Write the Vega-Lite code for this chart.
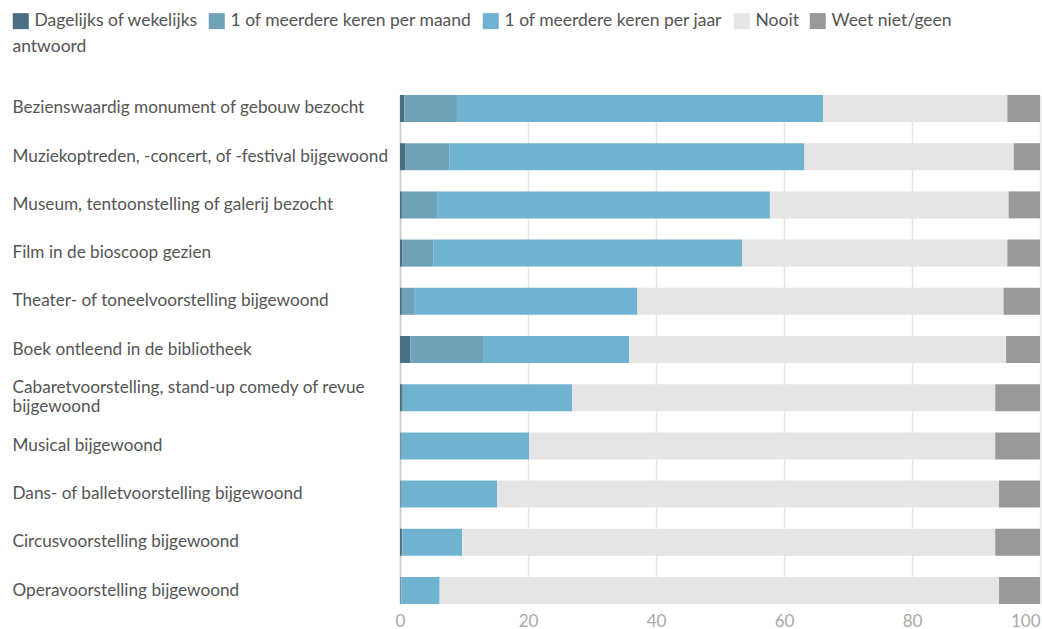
{
  "$schema": "https://vega.github.io/schema/vega-lite/v6.json",
  "width": 640,
  "height": 509,
  "autosize": {"type": "none"},
  "padding": {"left": 400, "top": 95, "right": 2, "bottom": 25},
  "background": "white",
  "config": {
    "font": "Lato",
    "view": {"stroke": null}
  },
  "data": {
    "values": [
      {"act": "Bezienswaardig monument of gebouw bezocht", "cat": "Dagelijks of wekelijks", "r": 1, "v": 0.7},
      {"act": "Bezienswaardig monument of gebouw bezocht", "cat": "1 of meerdere keren per maand", "r": 2, "v": 8.2},
      {"act": "Bezienswaardig monument of gebouw bezocht", "cat": "1 of meerdere keren per jaar", "r": 3, "v": 57.2},
      {"act": "Bezienswaardig monument of gebouw bezocht", "cat": "Nooit", "r": 4, "v": 28.8},
      {"act": "Bezienswaardig monument of gebouw bezocht", "cat": "Weet niet/geen antwoord", "r": 5, "v": 5.1},
      {"act": "Muziekoptreden, -concert, of -festival bijgewoond", "cat": "Dagelijks of wekelijks", "r": 1, "v": 0.8},
      {"act": "Muziekoptreden, -concert, of -festival bijgewoond", "cat": "1 of meerdere keren per maand", "r": 2, "v": 6.9},
      {"act": "Muziekoptreden, -concert, of -festival bijgewoond", "cat": "1 of meerdere keren per jaar", "r": 3, "v": 55.5},
      {"act": "Muziekoptreden, -concert, of -festival bijgewoond", "cat": "Nooit", "r": 4, "v": 32.7},
      {"act": "Muziekoptreden, -concert, of -festival bijgewoond", "cat": "Weet niet/geen antwoord", "r": 5, "v": 4.1},
      {"act": "Museum, tentoonstelling of galerij bezocht", "cat": "Dagelijks of wekelijks", "r": 1, "v": 0.3},
      {"act": "Museum, tentoonstelling of galerij bezocht", "cat": "1 of meerdere keren per maand", "r": 2, "v": 5.6},
      {"act": "Museum, tentoonstelling of galerij bezocht", "cat": "1 of meerdere keren per jaar", "r": 3, "v": 51.9},
      {"act": "Museum, tentoonstelling of galerij bezocht", "cat": "Nooit", "r": 4, "v": 37.3},
      {"act": "Museum, tentoonstelling of galerij bezocht", "cat": "Weet niet/geen antwoord", "r": 5, "v": 4.9},
      {"act": "Film in de bioscoop gezien", "cat": "Dagelijks of wekelijks", "r": 1, "v": 0.4},
      {"act": "Film in de bioscoop gezien", "cat": "1 of meerdere keren per maand", "r": 2, "v": 4.8},
      {"act": "Film in de bioscoop gezien", "cat": "1 of meerdere keren per jaar", "r": 3, "v": 48.3},
      {"act": "Film in de bioscoop gezien", "cat": "Nooit", "r": 4, "v": 41.4},
      {"act": "Film in de bioscoop gezien", "cat": "Weet niet/geen antwoord", "r": 5, "v": 5.1},
      {"act": "Theater- of toneelvoorstelling bijgewoond", "cat": "Dagelijks of wekelijks", "r": 1, "v": 0.3},
      {"act": "Theater- of toneelvoorstelling bijgewoond", "cat": "1 of meerdere keren per maand", "r": 2, "v": 1.9},
      {"act": "Theater- of toneelvoorstelling bijgewoond", "cat": "1 of meerdere keren per jaar", "r": 3, "v": 34.9},
      {"act": "Theater- of toneelvoorstelling bijgewoond", "cat": "Nooit", "r": 4, "v": 57.2},
      {"act": "Theater- of toneelvoorstelling bijgewoond", "cat": "Weet niet/geen antwoord", "r": 5, "v": 5.7},
      {"act": "Boek ontleend in de bibliotheek", "cat": "Dagelijks of wekelijks", "r": 1, "v": 1.6},
      {"act": "Boek ontleend in de bibliotheek", "cat": "1 of meerdere keren per maand", "r": 2, "v": 11.5},
      {"act": "Boek ontleend in de bibliotheek", "cat": "1 of meerdere keren per jaar", "r": 3, "v": 22.7},
      {"act": "Boek ontleend in de bibliotheek", "cat": "Nooit", "r": 4, "v": 58.9},
      {"act": "Boek ontleend in de bibliotheek", "cat": "Weet niet/geen antwoord", "r": 5, "v": 5.3},
      {"act": "Cabaretvoorstelling, stand-up comedy of revue bijgewoond", "cat": "Dagelijks of wekelijks", "r": 1, "v": 0.3},
      {"act": "Cabaretvoorstelling, stand-up comedy of revue bijgewoond", "cat": "1 of meerdere keren per maand", "r": 2, "v": 0.3},
      {"act": "Cabaretvoorstelling, stand-up comedy of revue bijgewoond", "cat": "1 of meerdere keren per jaar", "r": 3, "v": 26.3},
      {"act": "Cabaretvoorstelling, stand-up comedy of revue bijgewoond", "cat": "Nooit", "r": 4, "v": 66.1},
      {"act": "Cabaretvoorstelling, stand-up comedy of revue bijgewoond", "cat": "Weet niet/geen antwoord", "r": 5, "v": 7.0},
      {"act": "Musical bijgewoond", "cat": "Dagelijks of wekelijks", "r": 1, "v": 0.1},
      {"act": "Musical bijgewoond", "cat": "1 of meerdere keren per maand", "r": 2, "v": 0.2},
      {"act": "Musical bijgewoond", "cat": "1 of meerdere keren per jaar", "r": 3, "v": 19.9},
      {"act": "Musical bijgewoond", "cat": "Nooit", "r": 4, "v": 72.8},
      {"act": "Musical bijgewoond", "cat": "Weet niet/geen antwoord", "r": 5, "v": 7.0},
      {"act": "Dans- of balletvoorstelling bijgewoond", "cat": "Dagelijks of wekelijks", "r": 1, "v": 0.1},
      {"act": "Dans- of balletvoorstelling bijgewoond", "cat": "1 of meerdere keren per maand", "r": 2, "v": 0.2},
      {"act": "Dans- of balletvoorstelling bijgewoond", "cat": "1 of meerdere keren per jaar", "r": 3, "v": 14.9},
      {"act": "Dans- of balletvoorstelling bijgewoond", "cat": "Nooit", "r": 4, "v": 78.4},
      {"act": "Dans- of balletvoorstelling bijgewoond", "cat": "Weet niet/geen antwoord", "r": 5, "v": 6.4},
      {"act": "Circusvoorstelling bijgewoond", "cat": "Dagelijks of wekelijks", "r": 1, "v": 0.3},
      {"act": "Circusvoorstelling bijgewoond", "cat": "1 of meerdere keren per maand", "r": 2, "v": 0.1},
      {"act": "Circusvoorstelling bijgewoond", "cat": "1 of meerdere keren per jaar", "r": 3, "v": 9.3},
      {"act": "Circusvoorstelling bijgewoond", "cat": "Nooit", "r": 4, "v": 83.3},
      {"act": "Circusvoorstelling bijgewoond", "cat": "Weet niet/geen antwoord", "r": 5, "v": 7.0},
      {"act": "Operavoorstelling bijgewoond", "cat": "Dagelijks of wekelijks", "r": 1, "v": 0.1},
      {"act": "Operavoorstelling bijgewoond", "cat": "1 of meerdere keren per maand", "r": 2, "v": 0.1},
      {"act": "Operavoorstelling bijgewoond", "cat": "1 of meerdere keren per jaar", "r": 3, "v": 6.0},
      {"act": "Operavoorstelling bijgewoond", "cat": "Nooit", "r": 4, "v": 87.4},
      {"act": "Operavoorstelling bijgewoond", "cat": "Weet niet/geen antwoord", "r": 5, "v": 6.4}
    ]
  },
  "mark": {"type": "bar"},
  "encoding": {
    "y": {
      "field": "act",
      "type": "nominal",
      "sort": null,
      "scale": {"paddingInner": 0.44, "paddingOuter": 0},
      "axis": {
        "title": "antwoord",
        "titleAngle": 0,
        "titleAlign": "left",
        "titleBaseline": "top",
        "titleX": -388,
        "titleY": -58,
        "titleFontSize": 17.5,
        "titleFontWeight": "normal",
        "titleColor": "#555555",
        "ticks": false,
        "domain": true,
        "domainColor": "#cccccc",
        "domainWidth": 1.5,
        "labelAlign": "left",
        "labelPadding": 388,
        "labelLimit": 400,
        "labelFontSize": 17.2,
        "labelColor": "#555555",
        "labelLineHeight": 19,
        "labelOffset": {"expr": "datum.value == 'Cabaretvoorstelling, stand-up comedy of revue bijgewoond' ? -9.5 : 0"},
        "labelExpr": "datum.label == 'Cabaretvoorstelling, stand-up comedy of revue bijgewoond' ? ['Cabaretvoorstelling, stand-up comedy of revue', 'bijgewoond'] : datum.label"
      }
    },
    "x": {
      "field": "v",
      "type": "quantitative",
      "stack": "zero",
      "scale": {"domain": [0, 100], "nice": false},
      "axis": {
        "title": null,
        "values": [0, 20, 40, 60, 80, 100],
        "ticks": false,
        "domain": false,
        "grid": true,
        "gridColor": "#e6e6e6",
        "gridWidth": 1.5,
        "labelFontSize": 17,
        "labelColor": "#aaaaaa",
        "labelPadding": 9,
        "labelBaseline": "top",
        "labelAlign": {"expr": "datum.value == 100 ? 'right' : 'center'"},
        "labelFlush": false
      }
    },
    "order": {"field": "r", "type": "quantitative", "sort": "ascending"},
    "color": {
      "field": "cat",
      "type": "nominal",
      "scale": {
        "domain": ["Dagelijks of wekelijks", "1 of meerdere keren per maand", "1 of meerdere keren per jaar", "Nooit", "Weet niet/geen antwoord"],
        "range": ["#4b6f82", "#6fa2b9", "#70b3d0", "#e5e5e5", "#999999"]
      },
      "legend": {
        "title": null,
        "orient": "none",
        "legendX": -388,
        "legendY": -83,
        "direction": "horizontal",
        "symbolType": "square",
        "symbolSize": 256,
        "symbolStrokeWidth": 0,
        "labelFontSize": 17.5,
        "labelColor": "#555555",
        "labelOffset": 5,
        "columnPadding": 10,
        "labelLimit": 300,
        "labelExpr": "datum.label == 'Weet niet/geen antwoord' ? 'Weet niet/geen' : datum.label"
      }
    }
  }
}
